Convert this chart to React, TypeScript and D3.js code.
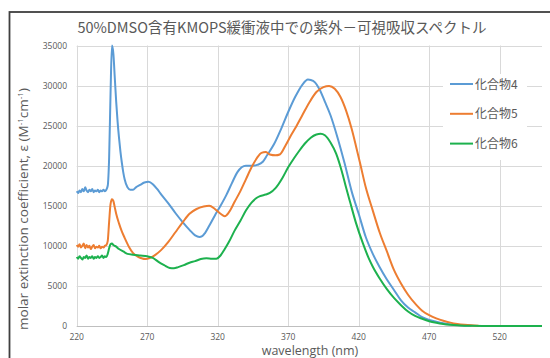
import React from "react";
import * as d3 from "d3";

const titleText = "50%DMSO含有KMOPS緩衝液中での紫外－可視吸収スペクトル";
const seriesNames = ["化合物4", "化合物5", "化合物6"];
const seriesColors = ["#5B9BD5", "#ED7D31", "#1DB14E"];
const xTicks = [220, 270, 320, 370, 420, 470, 520];
const yTicks = [0, 5000, 10000, 15000, 20000, 25000, 30000, 35000];

const wl4 = [220,221,222,223,224,225,226,227,228,229,230,231,232,233,234,235,236,237,238,239,240,241,242,243,244,245,246,247,248,249,250,251,252,253,254,256,258,260,262,265,268,271,274,277,280,285,290,295,300,304,307,309,311,314,318,322,326,330,334,337,340,345,348,352,355,360,365,370,375,380,384,386,389,392,396,400,405,410,415,420,425,430,435,440,445,450,455,460,465,470,475,480,485,490,495,500];
const eps4 = [16800,16600,16900,16700,17100,16800,17300,16900,16700,17000,16800,17100,16700,16900,16800,17000,16700,16900,16800,17000,16800,17000,17500,21000,29000,35000,34000,31000,28000,25500,23500,21800,20400,19200,18300,17300,17000,17000,17300,17600,17900,18000,17700,17100,16400,15300,14100,13000,12000,11300,11100,11200,11600,12500,13800,15000,16300,17800,19200,19800,20000,20000,20100,20500,21300,22700,24600,26700,28600,30100,30750,30700,30400,29600,28000,26300,23500,20300,16800,14000,11100,9000,7300,5800,4500,3200,2300,1700,1100,750,540,350,200,120,60,30];

const wl5 = [220,221,222,223,224,225,226,227,228,229,230,231,232,233,234,235,236,237,238,239,240,241,242,243,244,245,246,247,248,250,252,254,257,260,263,266,269,272,276,280,285,290,295,300,305,310,314,318,322,325,328,332,336,340,344,348,351,354,357,361,364,368,372,376,380,385,390,395,399,403,407,411,415,418,421,425,430,435,440,445,450,455,461,465,470,475,480,485,490,495,500,505];
const eps5 = [10100,9900,10200,9800,10000,10300,9700,10100,9800,10000,9600,9900,10100,9700,9900,9800,10000,9700,9900,9800,10000,10100,10600,13000,15200,15800,15600,14800,14000,12800,11800,11000,9900,9100,8700,8450,8350,8500,8900,9500,10500,11700,12900,14000,14600,14900,15000,14600,14000,13700,14200,15500,16800,18300,19800,21000,21600,21700,21400,21300,21400,22500,23800,25000,26300,27900,29200,29800,29950,29600,28600,26900,24600,22500,20300,17300,14400,11600,9300,7000,5300,3900,2600,1900,1350,960,650,420,260,150,80,40];

const wl6 = [220,221,222,223,224,225,226,227,228,229,230,231,232,233,234,235,236,237,238,239,240,241,242,243,244,245,246,248,250,253,256,260,265,270,274,278,282,286,289,292,296,300,304,308,312,316,319,322,325,328,332,336,340,344,347,350,354,357,361,366,370,374,378,382,386,390,393,396,400,404,408,411,414,418,423,427,430,435,440,445,450,455,460,465,470,475,480,485,490,495,500,510,520,530,540,550];
const eps6 = [8600,8400,8700,8500,8300,8600,8500,8800,8400,8600,8500,8700,8400,8600,8500,8700,8500,8600,8800,8500,8700,8600,9000,9700,10200,10300,10100,9900,9600,9300,9000,8900,8800,8700,8500,8000,7600,7250,7200,7350,7600,7900,8100,8350,8450,8400,8400,8800,9600,10500,11900,13100,14400,15400,15900,16200,16400,16600,17200,18500,19800,20900,21900,22800,23500,23900,24000,23800,22900,21500,19300,17300,15400,12900,10300,8500,7400,5900,4600,3500,2600,1800,1250,900,600,400,250,150,80,40,20,5,0,0,0,0];

const series = [
  { name: seriesNames[0], color: seriesColors[0], x: wl4, y: eps4 },
  { name: seriesNames[1], color: seriesColors[1], x: wl5, y: eps5 },
  { name: seriesNames[2], color: seriesColors[2], x: wl6, y: eps6 },
];

export default function App() {
  const W = 550, H = 358;
  const x = d3.scaleLinear().domain([220, 550]).range([76.7, 542]);
  const y = d3.scaleLinear().domain([0, 35000]).range([326, 45.5]);
  const line = d3.line<[number, number]>().x(d => x(d[0])).y(d => y(d[1])).curve(d3.curveMonotoneX);
  const gray = "#595959";
  const grid = "#d9d9d9";
  const font = "'Noto Sans CJK JP', 'Open Sans', sans-serif";
  const lg = { x: 443, y: 74, w: 84, h: 86 };
  return (
    <svg width={W} height={H} style={{ position: "absolute", left: 0, top: 0, background: "#fff" }}>
      <rect x={0} y={0} width={W} height={H} fill="#fff" />
      <rect x={9.5} y={12} width={W + 10} height={H + 10} fill="none" stroke="#3f3f3f" strokeWidth={1.8} />
      <text x={282} y={33} textAnchor="middle" fontFamily={font} fontSize={14.5} fill={gray}>{titleText}</text>
      {yTicks.map(t => (
        <g key={"y" + t}>
          <line x1={x(220)} x2={x(550)} y1={Math.round(y(t)) + 0.5} y2={Math.round(y(t)) + 0.5} stroke={t === 0 ? "#bfbfbf" : grid} strokeWidth={1} />
          <text x={67} y={y(t) + 3} textAnchor="end" fontFamily="'Open Sans', sans-serif" fontSize={8.5} fill={gray}>{t}</text>
        </g>
      ))}
      {xTicks.map(t => (
        <g key={"x" + t}>
          <line x1={Math.round(x(t)) + 0.5} x2={Math.round(x(t)) + 0.5} y1={y(35000)} y2={y(0)} stroke={grid} strokeWidth={1} />
          <text x={x(t)} y={340} textAnchor="middle" fontFamily="'Open Sans', sans-serif" fontSize={8.5} fill={gray}>{t}</text>
        </g>
      ))}
      <rect x={lg.x} y={lg.y} width={lg.w} height={lg.h} fill="#fff" />
      {series.map(s => (
        <path key={s.name} d={line(s.x.map((v, i) => [v, s.y[i]] as [number, number])) || ""} fill="none" stroke={s.color} strokeWidth={2} strokeLinejoin="round" />
      ))}
      {series.map((s, i) => {
        const ly = 84 + i * 29.8;
        return (
          <g key={"lg" + i}>
            <line x1={450} x2={473} y1={ly} y2={ly} stroke={s.color} strokeWidth={2} />
            <text x={475} y={ly + 4.5} fontFamily={font} fontSize={12} fill={gray}>{s.name}</text>
          </g>
        );
      })}
      <text transform="translate(28,209) rotate(-90)" textAnchor="middle" fontFamily="'Open Sans', sans-serif" fontSize={13.5} fill={gray}>
        molar extinction coefficient, ε (M<tspan dy={-5} fontSize={8}>-1</tspan><tspan dy={5}>cm</tspan><tspan dy={-5} fontSize={8}>-1</tspan><tspan dy={5}>)</tspan>
      </text>
      <text x={310} y={355} textAnchor="middle" fontFamily="'Open Sans', sans-serif" fontSize={12.5} fill={gray}>wavelength (nm)</text>
    </svg>
  );
}
